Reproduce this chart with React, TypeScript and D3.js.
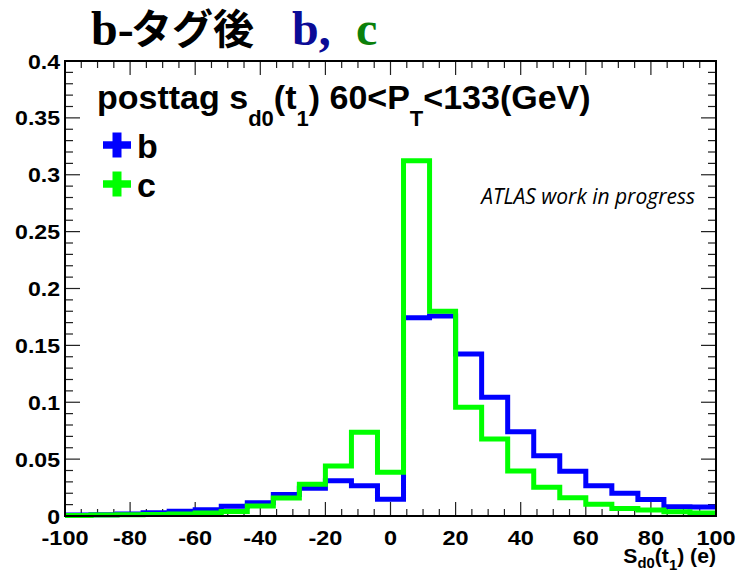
import { useEffect, useRef } from "react";
import * as d3 from "d3";

// histogram bin edges (8 units wide) and normalised contents for b and c jets
const binEdges = [-100, -92, -84, -76, -68, -60, -52, -44, -36, -28, -20, -12, -4, 4, 12, 20, 28, 36, 44, 52, 60, 68, 76, 84, 92, 100];
const bValues = [0.0008, 0.0012, 0.0018, 0.0028, 0.0042, 0.0055, 0.0085, 0.0117, 0.019, 0.0244, 0.031, 0.0266, 0.0148, 0.1743, 0.1758, 0.1424, 0.1043, 0.0741, 0.053, 0.0393, 0.0267, 0.02, 0.0144, 0.0082, 0.008];
const cValues = [0.0005, 0.0008, 0.001, 0.0013, 0.0018, 0.0026, 0.004, 0.0088, 0.0158, 0.028, 0.044, 0.0736, 0.0384, 0.3124, 0.18, 0.0955, 0.0677, 0.0396, 0.0252, 0.0161, 0.0104, 0.0066, 0.0053, 0.0038, 0.0027];

const xTicks = [-100, -80, -60, -40, -20, 0, 20, 40, 60, 80, 100];
const yTicks = [0, 0.05, 0.1, 0.15, 0.2, 0.25, 0.3, 0.35, 0.4];
const yTickLabels = ["0", "0.05", "0.1", "0.15", "0.2", "0.25", "0.3", "0.35", "0.4"];

const SANS = "'Liberation Sans', Arial, Helvetica, sans-serif";

function App() {
  const ref = useRef<SVGSVGElement>(null);

  useEffect(() => {
    const svg = d3.select(ref.current);
    svg.selectAll("*").remove();

    const left = 65, right = 716, top = 61, bottom = 516;
    const x = d3.scaleLinear().domain([-100, 100]).range([left, right]);
    const y = d3.scaleLinear().domain([0, 0.4]).range([bottom, top]);

    // ticks: major + minor on all four sides, pointing inward
    const ticks = svg.append("g").attr("stroke", "#222").attr("stroke-width", 1.2);
    x.ticks(40).forEach((v) => {
      const len = v % 20 === 0 ? 14 : 7;
      ticks.append("line").attr("x1", x(v)).attr("x2", x(v)).attr("y1", bottom).attr("y2", bottom - len);
      ticks.append("line").attr("x1", x(v)).attr("x2", x(v)).attr("y1", top).attr("y2", top + len);
    });
    y.ticks(40).forEach((v) => {
      const major = Math.abs(Math.round(v * 20) - v * 20) < 1e-6;
      const len = major ? 15 : 8;
      ticks.append("line").attr("x1", left).attr("x2", left + len).attr("y1", y(v)).attr("y2", y(v));
      ticks.append("line").attr("x1", right).attr("x2", right - len).attr("y1", y(v)).attr("y2", y(v));
    });

    // histograms drawn as steps
    const line = d3
      .line<number>()
      .x((d, i) => x(binEdges[i]))
      .y((d) => y(d))
      .curve(d3.curveStepAfter);
    const drawHist = (values: number[], color: string) => {
      const pts = binEdges.map((e, i) => values[Math.min(i, values.length - 1)]);
      svg
        .append("path")
        .attr("d", line(pts))
        .attr("fill", "none")
        .attr("stroke", color)
        .attr("stroke-width", 5)
        .attr("stroke-linejoin", "miter");
    };
    drawHist(bValues, "#0000ff");
    drawHist(cValues, "#00ff00");

    // frame
    svg
      .append("rect")
      .attr("x", left)
      .attr("y", top)
      .attr("width", right - left)
      .attr("height", bottom - top)
      .attr("fill", "none")
      .attr("stroke", "black")
      .attr("stroke-width", 2);

    // bold helvetica-like text, slightly widened like the ROOT output
    const label = (tx: number, ty: number, anchor: string, size: number, stretch: number) =>
      svg
        .append("text")
        .attr("transform", `translate(${tx},${ty}) scale(${stretch},1)`)
        .attr("text-anchor", anchor)
        .style("font-family", SANS)
        .style("font-weight", "bold")
        .style("font-size", size + "px");

    yTicks.forEach((v, i) => label(60, y(v) + 7.5, "end", 21, 1.1).text(yTickLabels[i]));
    xTicks.forEach((v) => label(x(v), 545, "middle", 21, 1.12).text(String(v)));

    const xTitle = label(716, 563, "end", 20, 1.06);
    xTitle.append("tspan").text("S");
    xTitle.append("tspan").attr("dy", 5).style("font-size", "14px").text("d0");
    xTitle.append("tspan").attr("dy", -5).text("(t");
    xTitle.append("tspan").attr("dy", 7).style("font-size", "14px").text("1");
    xTitle.append("tspan").attr("dy", -7).text(") (e)");

    // legend header
    const head = label(97, 109, "start", 34, 1.0);
    head.append("tspan").text("posttag s");
    head.append("tspan").attr("dy", 17).style("font-size", "22px").text("d0");
    head.append("tspan").attr("dy", -17).text("(t");
    head.append("tspan").attr("dy", 17).style("font-size", "22px").text("1");
    head.append("tspan").attr("dy", -17).text(") 60<P");
    head.append("tspan").attr("dy", 17).style("font-size", "22px").text("T");
    head.append("tspan").attr("dy", -17).text("<133(GeV)");

    // legend entries
    const entries = [
      { name: "b", color: "#0000ff", cy: 145 },
      { name: "c", color: "#00ff00", cy: 184 },
    ];
    entries.forEach((e) => {
      svg.append("line").attr("x1", 103).attr("x2", 131).attr("y1", e.cy).attr("y2", e.cy)
        .attr("stroke", e.color).attr("stroke-width", 7.5);
      svg.append("line").attr("x1", 117).attr("x2", 117).attr("y1", e.cy - 12.5).attr("y2", e.cy + 12.5)
        .attr("stroke", e.color).attr("stroke-width", 9);
      svg
        .append("text")
        .attr("x", 137)
        .attr("y", e.cy + 12.5)
        .style("font-family", SANS)
        .style("font-weight", "bold")
        .style("font-size", "34px")
        .text(e.name);
    });

    svg
      .append("text")
      .attr("x", 695)
      .attr("y", 204)
      .attr("text-anchor", "end")
      .style("font-family", "'Open Sans', sans-serif")
      .style("font-style", "italic")
      .style("font-size", "21px")
      .text("ATLAS work in progress");

    // slide title
    const serif = "'Liberation Serif', 'Times New Roman', serif";
    svg.append("text").attr("x", 91).attr("y", 45)
      .style("font-family", serif).style("font-weight", "bold").style("font-size", "48px").text("b-");
    svg.append("text").attr("x", 131).attr("y", 44)
      .style("font-family", "'Noto Sans CJK JP', sans-serif").style("font-weight", "bold").style("font-size", "41px").text("タグ後");
    svg.append("text").attr("x", 292).attr("y", 45)
      .style("font-family", serif).style("font-weight", "bold").style("font-size", "48px").attr("fill", "#0b0b96").text("b,");
    svg.append("text").attr("x", 356).attr("y", 45)
      .style("font-family", serif).style("font-weight", "bold").style("font-size", "48px").attr("fill", "#0b800b").text("c");
  }, []);

  return (
    <svg
      ref={ref}
      width={736}
      height={572}
      style={{ position: "absolute", left: 0, top: 0, background: "white" }}
    />
  );
}

export default App;
